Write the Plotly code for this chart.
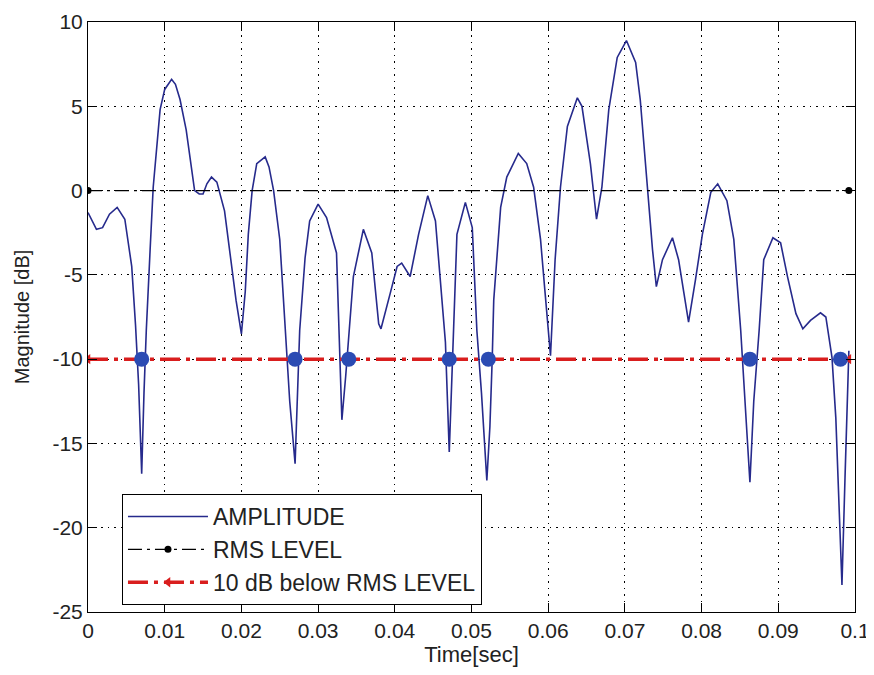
import plotly.graph_objects as go

# amplitude trace (time in sec, magnitude in dB)
time_s = [
    0.0000, 0.0011, 0.0019, 0.0028, 0.0038, 0.0048, 0.0057, 0.0062, 0.0066, 0.0070,
    0.0073, 0.0076, 0.0081, 0.0085, 0.0094, 0.0100, 0.0109, 0.0114, 0.0120, 0.0128,
    0.0139, 0.0145, 0.0150, 0.0155, 0.0161, 0.0168, 0.0178, 0.0187, 0.0193, 0.0200,
    0.0205, 0.0209, 0.0214, 0.0220, 0.0231, 0.0236, 0.0242, 0.0250, 0.0257, 0.0263,
    0.0270, 0.0273, 0.0276, 0.0283, 0.0289, 0.0300, 0.0311, 0.0324, 0.0327, 0.0331,
    0.0336, 0.0340, 0.0346, 0.0359, 0.0370, 0.0379, 0.0382, 0.0394, 0.0403, 0.0409,
    0.0420, 0.0431, 0.0443, 0.0453, 0.0459, 0.0466, 0.0471, 0.0477, 0.0481, 0.0492,
    0.0501, 0.0507, 0.0513, 0.0520, 0.0524, 0.0527, 0.0529, 0.0538, 0.0546, 0.0561,
    0.0572, 0.0581, 0.0590, 0.0596, 0.0603, 0.0609, 0.0616, 0.0625, 0.0638, 0.0644,
    0.0655, 0.0663, 0.0670, 0.0679, 0.0690, 0.0702, 0.0714, 0.0720, 0.0729, 0.0736,
    0.0741, 0.0749, 0.0762, 0.0770, 0.0777, 0.0783, 0.0792, 0.0801, 0.0812, 0.0821,
    0.0833, 0.0842, 0.0851, 0.0856, 0.0863, 0.0868, 0.0875, 0.0881, 0.0893, 0.0903,
    0.0912, 0.0923, 0.0932, 0.0942, 0.0955, 0.0962, 0.0970, 0.0975, 0.0979, 0.0983,
    0.0987, 0.0990, 0.0992,
]
amplitude_db = [
    -1.3, -2.3, -2.2, -1.4, -1.0, -1.7, -4.5, -8.0, -11.5, -16.8,
    -12.0, -8.3, -3.5, 0.2, 4.8, 6.0, 6.6, 6.3, 5.4, 3.6,
    0.0, -0.2, -0.2, 0.4, 0.8, 0.5, -1.2, -4.5, -6.5, -8.5,
    -6.0, -2.6, 0.0, 1.6, 2.0, 1.4, 0.0, -2.9, -8.3, -12.5,
    -16.2, -12.5, -8.3, -4.0, -1.8, -0.8, -1.6, -3.7, -7.5, -13.6,
    -11.0, -8.5, -5.1, -2.3, -3.7, -7.9, -8.2, -6.1, -4.5, -4.3,
    -5.1, -2.6, -0.3, -1.8, -4.9, -9.0, -15.5, -8.3, -2.6, -0.7,
    -2.2, -8.3, -12.0, -17.2, -14.0, -10.0, -6.5, -1.0, 0.8, 2.2,
    1.6, 0.2, -2.9, -6.1, -9.8, -4.1, 0.2, 3.8, 5.5, 5.0,
    1.6, -1.7, 0.2, 4.8, 7.9, 8.9, 7.6, 5.4, 0.2, -3.5,
    -5.7, -4.1, -2.8, -4.1, -6.1, -7.8, -5.3, -2.6, -0.1, 0.4,
    -0.6, -2.9, -8.3, -12.0, -17.3, -12.5, -8.3, -4.1, -2.8, -3.1,
    -5.1, -7.3, -8.2, -7.7, -7.25, -7.5, -9.9, -13.5, -19.0, -23.4,
    -17.0, -11.4, -9.5,
]

# reference levels
rms_x = [0.0, 0.0992]
rms_db = [0.0, 0.0]
low_db = [-10.0, -10.0]

# points where the signal drops more than 10 dB below RMS
dip_x = [0.0070, 0.0270, 0.0340, 0.0471, 0.0522, 0.0863, 0.0981]
dip_db = [-10, -10, -10, -10, -10, -10, -10]

x_ticks = [0, 0.01, 0.02, 0.03, 0.04, 0.05, 0.06, 0.07, 0.08, 0.09, 0.1]
x_labels = ["0", "0.01", "0.02", "0.03", "0.04", "0.05", "0.06", "0.07", "0.08", "0.09", "0.1"]
y_ticks = [10, 5, 0, -5, -10, -15, -20, -25]
y_labels = ["10", "5", "0", "-5", "-10", "-15", "-20", "-25"]

sans = "Liberation Sans, Arial, sans-serif"

fig = go.Figure()

fig.add_trace(go.Scatter(
    x=time_s, y=amplitude_db, mode="lines", name="AMPLITUDE",
    line=dict(color="#262a8c", width=1.6),
))
fig.add_trace(go.Scatter(
    x=rms_x, y=rms_db, mode="lines+markers", name="RMS LEVEL",
    line=dict(color="black", width=1.3, dash="14px,5px,3px,5px"),
    marker=dict(color="black", size=7, symbol="circle"),
))
fig.add_trace(go.Scatter(
    x=rms_x, y=low_db, mode="lines+markers", name="10 dB below RMS LEVEL",
    line=dict(color="#d91e1e", width=3.5, dash="20px,6px,4px,6px"),
    marker=dict(color="#d91e1e", size=9, symbol="triangle-left"),
))
fig.add_trace(go.Scatter(
    x=dip_x, y=dip_db, mode="markers", showlegend=False,
    marker=dict(color="#2b4bb3", size=15, symbol="circle"),
))

axis_common = dict(
    showline=True, linecolor="black", linewidth=1, mirror="ticks",
    ticks="inside", ticklen=9, tickcolor="black", tickwidth=1,
    showgrid=True, gridcolor="black", gridwidth=1, griddash="1.5px,5px",
    zeroline=False, automargin=False,
    tickfont=dict(family=sans, size=21, color="#222"),
)

fig.update_xaxes(
    range=[0, 0.1], tickvals=x_ticks, ticktext=x_labels,
    title=dict(text="Time[sec]", font=dict(family=sans, size=22, color="#222"), standoff=5),
    **axis_common,
)
fig.update_yaxes(
    range=[-25, 10], tickvals=y_ticks, ticktext=y_labels,
    title=dict(text="Magnitude [dB]", font=dict(family=sans, size=20, color="#222"), standoff=17),
    **axis_common,
)

# the page adds an 8px body margin, so the margins are shifted by that amount
fig.update_layout(
    width=874, height=675,
    paper_bgcolor="white", plot_bgcolor="white",
    margin=dict(l=80, r=27, t=14, b=71),
    showlegend=True,
    legend=dict(
        x=0.0443, y=0.2, xanchor="left", yanchor="top",
        bgcolor="white", bordercolor="black", borderwidth=1,
        font=dict(family=sans, size=23, color="#222"),
        itemwidth=80, tracegroupgap=0,
    ),
)

fig.write_html("out.html")
